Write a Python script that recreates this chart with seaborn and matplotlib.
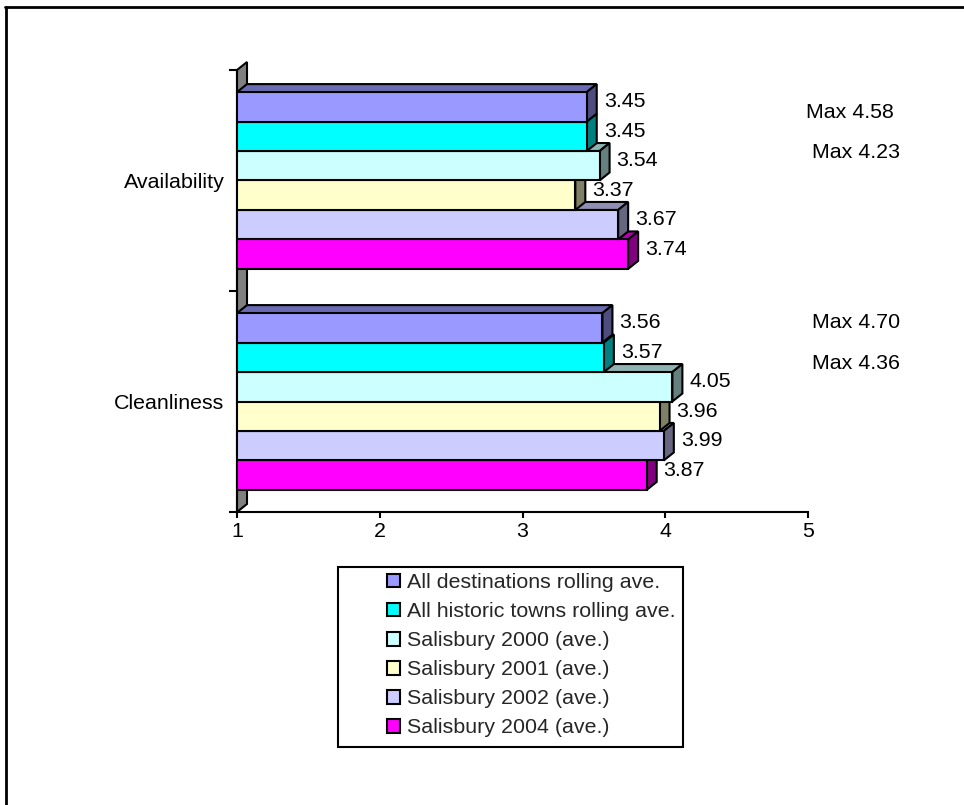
import matplotlib
matplotlib.use("Agg")
import matplotlib.pyplot as plt
from matplotlib.patches import Polygon, Patch, Rectangle
from matplotlib.lines import Line2D
import numpy as np
import pandas as pd
import seaborn as sns

# ---- data -------------------------------------------------------------
categories = ["Availability", "Cleanliness"]
series = [
    "All destinations rolling ave.",
    "All historic towns rolling ave.",
    "Salisbury 2000 (ave.)",
    "Salisbury 2001 (ave.)",
    "Salisbury 2002 (ave.)",
    "Salisbury 2004 (ave.)",
]
availability = [3.45, 3.45, 3.54, 3.37, 3.67, 3.74]
cleanliness = [3.56, 3.57, 4.05, 3.96, 3.99, 3.87]
max_notes_availability = ["Max 4.58", "Max 4.23"]
max_notes_cleanliness = ["Max 4.70", "Max 4.36"]
x_ticks = [1, 2, 3, 4, 5]

colors = ["#9999FF", "#00FFFF", "#CCFFFF", "#FFFFCC", "#CCCCFF", "#FF00FF"]

rows = []
for cat, vals in zip(categories, [availability, cleanliness]):
    for s, v in zip(series, vals):
        rows.append({"category": cat, "series": s, "value": v})
df = pd.DataFrame(rows)

# ---- style ------------------------------------------------------------
sns.set_theme(style="white")
plt.rcParams["font.family"] = ["Liberation Sans", "DejaVu Sans"]
FS = 15.4
LW = 1.5

W, H = 964, 805
fig = plt.figure(figsize=(W / 100, H / 100), dpi=100)
fig.patch.set_facecolor("white")

ax_left, ax_right, ax_top, ax_bottom = 237, 808, 70, 512
ax = fig.add_axes([ax_left / W, 1 - ax_bottom / H,
                   (ax_right - ax_left) / W, (ax_bottom - ax_top) / H])

sns.barplot(data=df, y="category", x="value", hue="series", orient="h",
            hue_order=series, order=categories, palette=colors,
            saturation=1, width=0.8, edgecolor="black", linewidth=LW,
            legend=False, ax=ax)

ax.set_xlim(x_ticks[0], x_ticks[-1])
ax.set_ylim(1.5, -0.5)
ax.set_xlabel("")
ax.set_ylabel("")
ax.set_facecolor("white")

# 3-D depth of the bars, in data units
dx = 10 / ((ax_right - ax_left) / (x_ticks[-1] - x_ticks[0]))
dy = 8 / ((ax_bottom - ax_top) / len(categories))


def shade(c, f):
    r, g, b = matplotlib.colors.to_rgb(c)
    return (r * f, g * f, b * f)


# back wall behind the category axis
wall = Polygon([(x_ticks[0], -0.5), (x_ticks[0] + dx, -0.5 - dy),
                (x_ticks[0] + dx, 1.5 - dy), (x_ticks[0], 1.5)],
               closed=True, facecolor="#808080", edgecolor="black",
               linewidth=LW, zorder=1, clip_on=False)
ax.add_patch(wall)

bars = [p for p in ax.patches if isinstance(p, Rectangle) and p is not wall]
for p in bars:
    y0 = p.get_y()
    h = p.get_height()
    x1 = p.get_x() + p.get_width()
    x0 = x_ticks[0]
    yc = y0 + h / 2
    z = 5 - yc
    face = p.get_facecolor()
    p.set_zorder(z + 0.01)
    top = Polygon([(x0, y0), (x1, y0), (x1 + dx, y0 - dy), (x0 + dx, y0 - dy)],
                  closed=True, facecolor=shade(face, 0.7), edgecolor="black",
                  linewidth=LW, zorder=z, joinstyle="miter")
    side = Polygon([(x1, y0), (x1 + dx, y0 - dy), (x1 + dx, y0 + h - dy),
                    (x1, y0 + h)],
                   closed=True, facecolor=shade(face, 0.5), edgecolor="black",
                   linewidth=LW, zorder=z, joinstyle="miter")
    ax.add_patch(top)
    ax.add_patch(side)
    ax.annotate(f"{p.get_width():.2f}", xy=(x1 + dx, yc),
                xytext=(5, 3.6), textcoords="offset points",
                ha="left", va="center", fontsize=FS, color="black",
                zorder=20, annotation_clip=False)

# axes, ticks and labels
for side_name in ["top", "right"]:
    ax.spines[side_name].set_visible(False)
for side_name in ["left", "bottom"]:
    ax.spines[side_name].set_color("black")
    ax.spines[side_name].set_linewidth(LW)
    ax.spines[side_name].set_zorder(30)

ax.set_xticks(x_ticks)
ax.set_xticklabels([str(t) for t in x_ticks], fontsize=FS, color="black")
ax.tick_params(axis="x", which="major", direction="out", length=4.5,
               width=LW, color="black", pad=3, bottom=True)
ax.set_yticks(range(len(categories)))
ax.set_yticklabels(categories, fontsize=FS, color="black")
ax.set_yticks([-0.5, 0.5, 1.5], minor=True)
ax.tick_params(axis="y", which="major", length=0, pad=9)
ax.tick_params(axis="y", which="minor", direction="out", length=6,
               width=LW, color="black", left=True)
ax.grid(False)

# side notes with the maximum scores
for (px, py), note in zip([(806, 113), (812, 152)], max_notes_availability):
    fig.text(px / W, 1 - py / H, note, ha="left", va="center",
             fontsize=FS, color="black")
for (px, py), note in zip([(812, 323), (812, 363)], max_notes_cleanliness):
    fig.text(px / W, 1 - py / H, note, ha="left", va="center",
             fontsize=FS, color="black")

# legend with its own frame
handles = [Patch(facecolor=c, edgecolor="black", linewidth=LW, label=s)
           for c, s in zip(colors, series)]
fig.legend(handles=handles, loc="upper left",
           bbox_to_anchor=(387 / W, 1 - 573 / H), frameon=False,
           fontsize=FS, handlelength=0.62, handleheight=0.62,
           handletextpad=0.3, labelspacing=0.47, borderpad=0,
           borderaxespad=0)
fig.add_artist(Rectangle((338 / W, 1 - 747 / H), (683 - 338) / W,
                         (747 - 567) / H, transform=fig.transFigure,
                         fill=False, edgecolor="black", linewidth=LW))

# outer chart frame (top and left edges)
fig.add_artist(Line2D([5 / W, 1], [1 - 7.5 / H, 1 - 7.5 / H],
                      transform=fig.transFigure, color="black", linewidth=2))
fig.add_artist(Line2D([6 / W, 6 / W], [0, 1 - 7.5 / H],
                      transform=fig.transFigure, color="black", linewidth=2))

fig.savefig("out.png", dpi=100, facecolor="white")
